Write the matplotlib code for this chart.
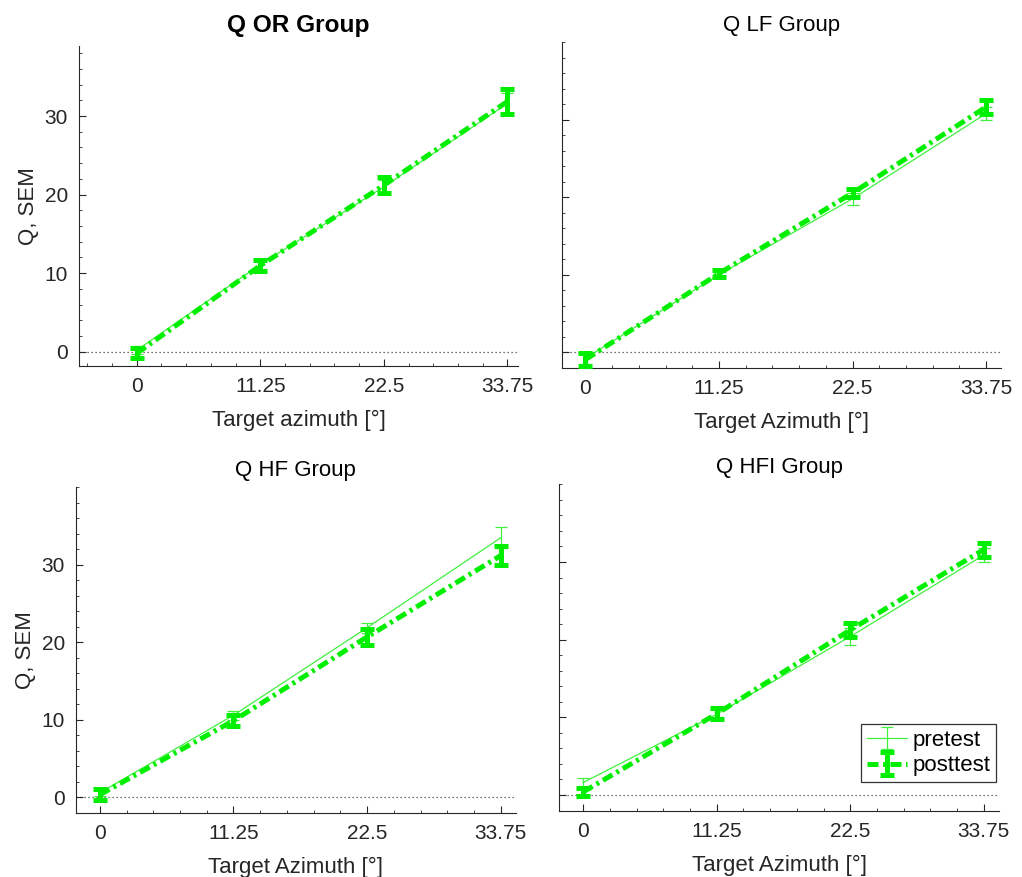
import matplotlib
matplotlib.use("Agg")
import matplotlib.pyplot as plt
from matplotlib.ticker import AutoMinorLocator

plt.rcParams['font.family'] = ['Liberation Sans', 'DejaVu Sans']

# ---- data ----
azimuth = [0, 11.25, 22.5, 33.75]
xtick_labels = ["0", "11.25", "22.5", "33.75"]
titles = ["Q OR Group", "Q LF Group", "Q HF Group", "Q HFI Group"]
xlabels = ["Target azimuth [°]", "Target Azimuth [°]", "Target Azimuth [°]", "Target Azimuth [°]"]

or_pre = [0.2, 11.1, 21.0, 31.6]
or_pre_sem = [0.5, 0.6, 0.8, 1.3]
or_post = [-0.2, 10.97, 21.2, 31.85]
or_post_sem = [0.64, 0.7, 1.0, 1.55]

lf_pre = [-0.8, 10.0, 19.8, 30.8]
lf_pre_sem = [0.7, 0.5, 0.8, 0.9]
lf_post = [-0.97, 10.15, 20.55, 31.65]
lf_post_sem = [0.84, 0.45, 0.55, 0.85]

hf_pre = [0.6, 10.6, 21.9, 33.5]
hf_pre_sem = [0.4, 0.55, 0.65, 1.35]
hf_post = [0.35, 9.9, 20.7, 31.2]
hf_post_sem = [0.7, 0.7, 1.0, 1.2]

hfi_pre = [1.6, 10.4, 20.4, 30.9]
hfi_pre_sem = [0.65, 0.6, 1.1, 0.95]
hfi_post = [0.4, 10.45, 21.25, 31.6]
hfi_post_sem = [0.55, 0.7, 0.85, 0.9]

pre_sets = [(or_pre, or_pre_sem), (lf_pre, lf_pre_sem), (hf_pre, hf_pre_sem), (hfi_pre, hfi_pre_sem)]
post_sets = [(or_post, or_post_sem), (lf_post, lf_post_sem), (hf_post, hf_post_sem), (hfi_post, hfi_post_sem)]

xlims = [(-5.25, 34.75), (-2, 35), (-2, 35), (-2, 35)]
ylims = [(-1.8, 38.9), (-2.1, 40), (-2.05, 40), (-2.05, 40)]

rects = [
    [0.0773, 0.5827, 0.4300, 0.3648],
    [0.5496, 0.5800, 0.4299, 0.3718],
    [0.0744, 0.0726, 0.4302, 0.3718],
    [0.5473, 0.0753, 0.4299, 0.3725],
]

GREEN_PRE = '#40f040'
GREEN_POST = '#00ee00'
AXC = '#262626'

fig = plt.figure(figsize=(10.22, 8.77), dpi=100)

for i in range(4):
    ax = fig.add_axes(rects[i])
    pre, pre_sem = pre_sets[i]
    post, post_sem = post_sets[i]
    ax.axhline(0, color='#444444', ls=(0, (1, 2.2)), lw=0.9, zorder=1)
    e1 = ax.errorbar(azimuth, pre, yerr=pre_sem, color=GREEN_PRE, lw=0.9,
                     capsize=4, capthick=0.9, label='pretest', zorder=3)
    e2 = ax.errorbar(azimuth, post, yerr=post_sem, color=GREEN_POST, lw=3.6,
                     elinewidth=3.6, capsize=5, capthick=3.6,
                     label='posttest', zorder=4)
    e2[0].set_dashes((2.2, 0.9, 0.6, 0.9))
    e2[0].set_dash_capstyle('butt')
    ax.set_xlim(*xlims[i])
    ax.set_ylim(*ylims[i])
    ax.set_xticks(azimuth)
    ax.set_yticks([0, 10, 20, 30])
    ax.xaxis.set_minor_locator(AutoMinorLocator(5))
    ax.yaxis.set_minor_locator(AutoMinorLocator(5))
    ax.tick_params(which='major', direction='in', length=5, width=0.8, colors=AXC,
                   labelsize=15, pad=8)
    ax.tick_params(which='minor', direction='in', length=2, width=0.6, colors=AXC)
    ax.set_xticklabels(xtick_labels)
    if i in (1, 3):
        ax.set_yticklabels([])
    else:
        ax.set_ylabel("Q, SEM", fontsize=16, color=AXC, labelpad=4)
    ax.set_xlabel(xlabels[i], fontsize=16, color=AXC, labelpad=10)
    for s in ('top', 'right'):
        ax.spines[s].set_visible(False)
    for s in ('left', 'bottom'):
        ax.spines[s].set_color(AXC)
        ax.spines[s].set_linewidth(0.8)
    if i == 0:
        ax.set_title(titles[i], fontsize=17.6, fontweight='bold', pad=10)
    else:
        ax.set_title(titles[i], fontsize=16, pad=8)
    if i == 3:
        leg = ax.legend(loc='lower right', bbox_to_anchor=(0.994, 0.089), fontsize=16,
                        frameon=True, fancybox=False, edgecolor='black',
                        handlelength=1.8, handletextpad=0.25, borderpad=0.25,
                        labelspacing=0.2, borderaxespad=0.0)
        leg.get_frame().set_linewidth(0.9)

fig.savefig("out.png", dpi=100)
